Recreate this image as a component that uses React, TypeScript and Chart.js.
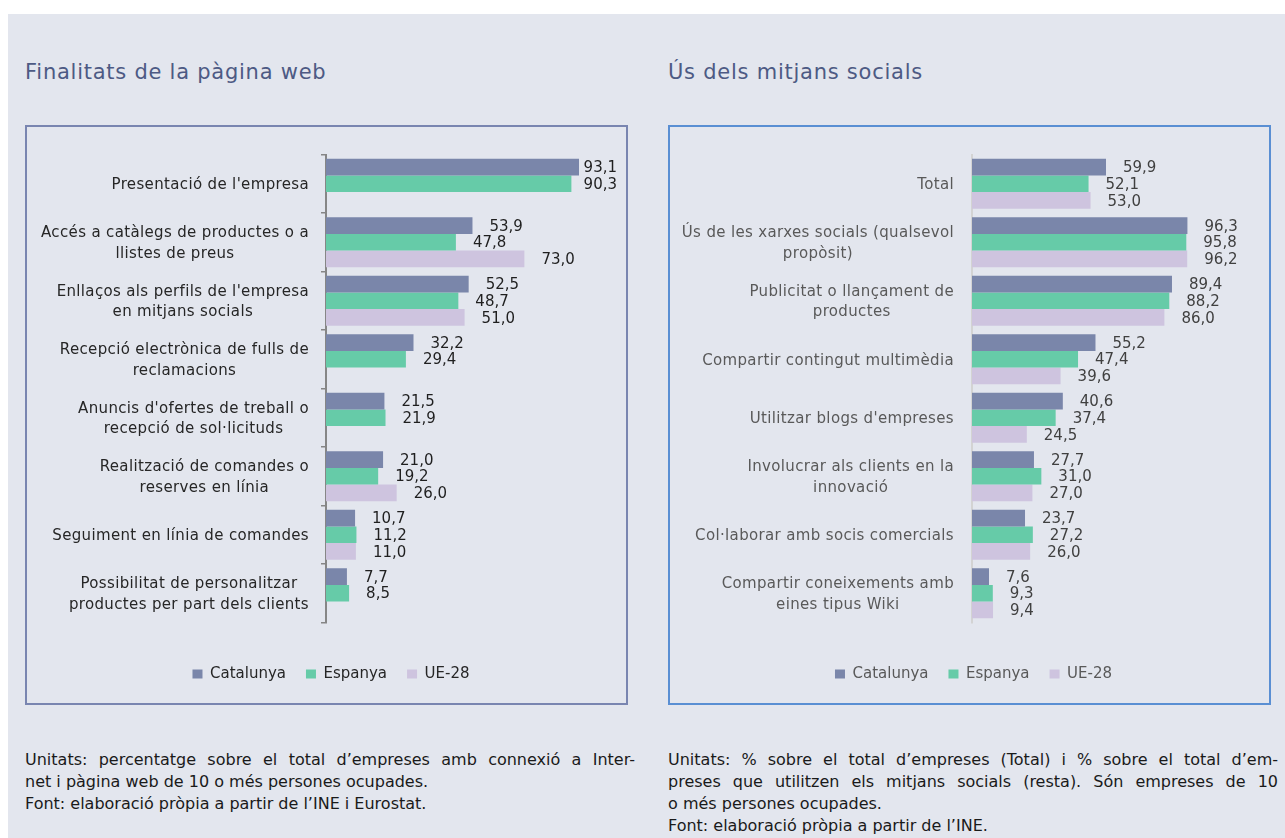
import React, { useEffect, useRef } from 'react';
import { Chart, registerables } from 'chart.js';

Chart.register(...registerables);

// ---------- data ----------
const seriesNames = ['Catalunya', 'Espanya', 'UE-28'];

const webCategories: (string | string[])[] = [
  "Presentació de l'empresa",
  ['Accés a catàlegs de productes o a', 'llistes de preus'],
  ["Enllaços als perfils de l'empresa", 'en mitjans socials'],
  ['Recepció electrònica de fulls de', 'reclamacions'],
  ["Anuncis d'ofertes de treball o", 'recepció de sol·licituds'],
  ['Realització de comandes o', 'reserves en línia'],
  'Seguiment en línia de comandes',
  ['Possibilitat de personalitzar', 'productes per part dels clients'],
];
const webCatalunya = [93.1, 53.9, 52.5, 32.2, 21.5, 21.0, 10.7, 7.7];
const webEspanya = [90.3, 47.8, 48.7, 29.4, 21.9, 19.2, 11.2, 8.5];
const webUE28: (number | null)[] = [null, 73.0, 51.0, null, null, 26.0, 11.0, null];

const socialCategories: (string | string[])[] = [
  'Total',
  ['Ús de les xarxes socials (qualsevol', 'propòsit)'],
  ['Publicitat o llançament de', 'productes'],
  'Compartir contingut multimèdia',
  "Utilitzar blogs d'empreses",
  ['Involucrar als clients en la', 'innovació'],
  'Col·laborar amb socis comercials',
  ['Compartir coneixements amb', 'eines tipus Wiki'],
];
const socialCatalunya = [59.9, 96.3, 89.4, 55.2, 40.6, 27.7, 23.7, 7.6];
const socialEspanya = [52.1, 95.8, 88.2, 47.4, 37.4, 31.0, 27.2, 9.3];
const socialUE28 = [53.0, 96.2, 86.0, 39.6, 24.5, 27.0, 26.0, 9.4];

const axisMin = 0;
const axisMax = 100;

// ---------- styles ----------
const seriesColors = ['#7a86aa', '#66cba8', '#cec4df'];
const FONT = '"DejaVu Sans", "Liberation Sans", sans-serif';
const CANVAS_W = 599;
const CANVAS_H = 576;

Chart.defaults.font.family = FONT;
Chart.defaults.font.size = 15;

const fmt = (v: number) => v.toFixed(1).replace('.', ',');

const customLabels = {
  id: 'customLabels',
  afterDatasetsDraw(chart: any, _args: any, opts: any) {
    const ctx = chart.ctx as CanvasRenderingContext2D;
    const yScale = chart.scales.y;
    const area = chart.chartArea;
    ctx.save();
    // category labels
    ctx.font = `15px ${FONT}`;
    (ctx as any).letterSpacing = opts.letterSpacing + 'px';
    ctx.fillStyle = opts.catColor;
    ctx.textBaseline = 'middle';
    ctx.textAlign = 'center';
    (chart.data.labels as any[]).forEach((lab, i) => {
      const lines: string[] = Array.isArray(lab) ? lab : [lab];
      const widths = lines.map((l) => ctx.measureText(l).width);
      const maxW = Math.max(...widths);
      const right = area.left - opts.catGap;
      const cx = right - maxW / 2;
      const cy = yScale.getPixelForValue(i) + 1.5;
      lines.forEach((l, k) => {
        ctx.fillText(l, cx, cy + (k - (lines.length - 1) / 2) * opts.lineHeight);
      });
    });
    // value labels
    (ctx as any).letterSpacing = '0px';
    ctx.textAlign = 'left';
    ctx.fillStyle = opts.valueColor;
    chart.data.datasets.forEach((ds: any, d: number) => {
      const meta = chart.getDatasetMeta(d);
      meta.data.forEach((el: any, i: number) => {
        const v = ds.data[i];
        if (v === null || v === undefined) return;
        const t = fmt(v);
        const w = ctx.measureText(t).width;
        const x = Math.min(el.x + opts.valueOffset, chart.width - w - opts.valueMargin);
        ctx.fillText(t, x, el.y + 1.2);
      });
    });
    ctx.restore();
  },
};

function buildConfig(
  labels: (string | string[])[],
  data: (number | null)[][],
  s: any
) {
  return {
    type: 'bar' as const,
    data: {
      labels,
      datasets: data.map((d, k) => ({
        label: seriesNames[k],
        data: d,
        backgroundColor: seriesColors[k],
        borderWidth: 0,
        categoryPercentage: 0.855,
        barPercentage: 1,
      })),
    },
    options: {
      animation: false,
      responsive: false,
      devicePixelRatio: 1,
      indexAxis: 'y' as const,
      layout: { padding: { top: 27.5, left: s.padLeft, right: s.padRight, bottom: 11.5 } },
      scales: {
        y: {
          type: 'category' as const,
          offset: true,
          ticks: { display: false },
          grid: {
            display: s.drawTicks,
            drawOnChartArea: false,
            drawTicks: true,
            tickLength: 5,
            color: s.axisColor,
            lineWidth: 1.5,
            offset: true,
          },
          border: { display: true, color: s.axisColor, width: 2 },
          afterFit: (scale: any) => {
            scale.width = s.yWidth;
          },
        },
        x: {
          type: 'linear' as const,
          min: axisMin,
          max: axisMax,
          display: true,
          ticks: { display: false },
          grid: { display: false },
          border: { display: false },
          afterFit: (scale: any) => {
            scale.height = 24;
          },
        },
      },
      plugins: {
        legend: {
          display: true,
          position: 'bottom' as const,
          labels: {
            boxWidth: 10,
            boxHeight: 9,
            padding: 20,
            color: s.legendColor,
            font: { size: 15, family: FONT },
          },
        },
        tooltip: { enabled: false },
        customLabels: {
          catColor: s.catColor,
          valueColor: s.valueColor,
          catGap: s.catGap,
          lineHeight: 20.5,
          letterSpacing: 0.35,
          valueOffset: 17,
          valueMargin: 9,
        },
      },
    },
    plugins: [customLabels],
  };
}

function BarChart({ labels, data, s, left, top }: any) {
  const ref = useRef<HTMLCanvasElement>(null);
  useEffect(() => {
    if (!ref.current) return;
    const chart = new Chart(ref.current, buildConfig(labels, data, s) as any);
    return () => chart.destroy();
  }, []);
  return (
    <canvas
      ref={ref}
      width={CANVAS_W}
      height={CANVAS_H}
      style={{ position: 'absolute', left, top, width: CANVAS_W, height: CANVAS_H }}
    />
  );
}

const leftStyle = {
  padLeft: 37.25,
  yWidth: 261.75,
  padRight: 28.25,
  axisColor: '#868686',
  drawTicks: true,
  catColor: '#262626',
  valueColor: '#1f1f1f',
  legendColor: '#262626',
  catGap: 17,
};
const rightStyle = {
  padLeft: 81.3,
  yWidth: 220.7,
  padRight: 73.3,
  axisColor: '#d3d3d3',
  drawTicks: false,
  catColor: '#595959',
  valueColor: '#404040',
  legendColor: '#595959',
  catGap: 18,
};

const titleStyle: React.CSSProperties = {
  position: 'absolute',
  top: 58,
  fontFamily: FONT,
  fontSize: 21,
  letterSpacing: 0.75,
  color: '#4d5a84',
  lineHeight: '28px',
  whiteSpace: 'nowrap',
};

const noteStyle: React.CSSProperties = {
  position: 'absolute',
  top: 749,
  width: 610,
  fontFamily: FONT,
  fontSize: 16,
  lineHeight: '22px',
  color: '#1a1a1a',
};

const justify: React.CSSProperties = {
  textAlign: 'justify',
  textAlignLast: 'justify' as any,
  whiteSpace: 'nowrap',
};

export default function App() {
  useEffect(() => {
    document.body.style.margin = '0';
  }, []);
  return (
    <div style={{ position: 'relative', width: 1285, height: 838, background: '#ffffff', overflow: 'hidden' }}>
      <div style={{ position: 'absolute', left: 8, top: 14, width: 1277, height: 824, background: '#e3e6ee' }} />
      <div style={{ ...titleStyle, left: 25 }}>Finalitats de la pàgina web</div>
      <div style={{ ...titleStyle, left: 668 }}>Ús dels mitjans socials</div>

      <div
        style={{
          position: 'absolute',
          left: 25,
          top: 125,
          width: 603,
          height: 580,
          border: '2px solid #7985b0',
          boxSizing: 'border-box',
        }}
      />
      <div
        style={{
          position: 'absolute',
          left: 668,
          top: 125,
          width: 603,
          height: 580,
          border: '2px solid #5a8fd3',
          boxSizing: 'border-box',
        }}
      />
      <BarChart labels={webCategories} data={[webCatalunya, webEspanya, webUE28]} s={leftStyle} left={27} top={127} />
      <BarChart
        labels={socialCategories}
        data={[socialCatalunya, socialEspanya, socialUE28]}
        s={rightStyle}
        left={670}
        top={127}
      />

      <div style={{ ...noteStyle, left: 25 }}>
        <div style={justify}>Unitats: percentatge sobre el total d’empreses amb connexió a Inter-</div>
        <div>net i pàgina web de 10 o més persones ocupades.</div>
        <div>Font: elaboració pròpia a partir de l’INE i Eurostat.</div>
      </div>
      <div style={{ ...noteStyle, left: 668 }}>
        <div style={justify}>Unitats: % sobre el total d’empreses (Total) i % sobre el total d’em-</div>
        <div style={justify}>preses que utilitzen els mitjans socials (resta). Són empreses de 10</div>
        <div>o més persones ocupades.</div>
        <div>Font: elaboració pròpia a partir de l’INE.</div>
      </div>
    </div>
  );
}
